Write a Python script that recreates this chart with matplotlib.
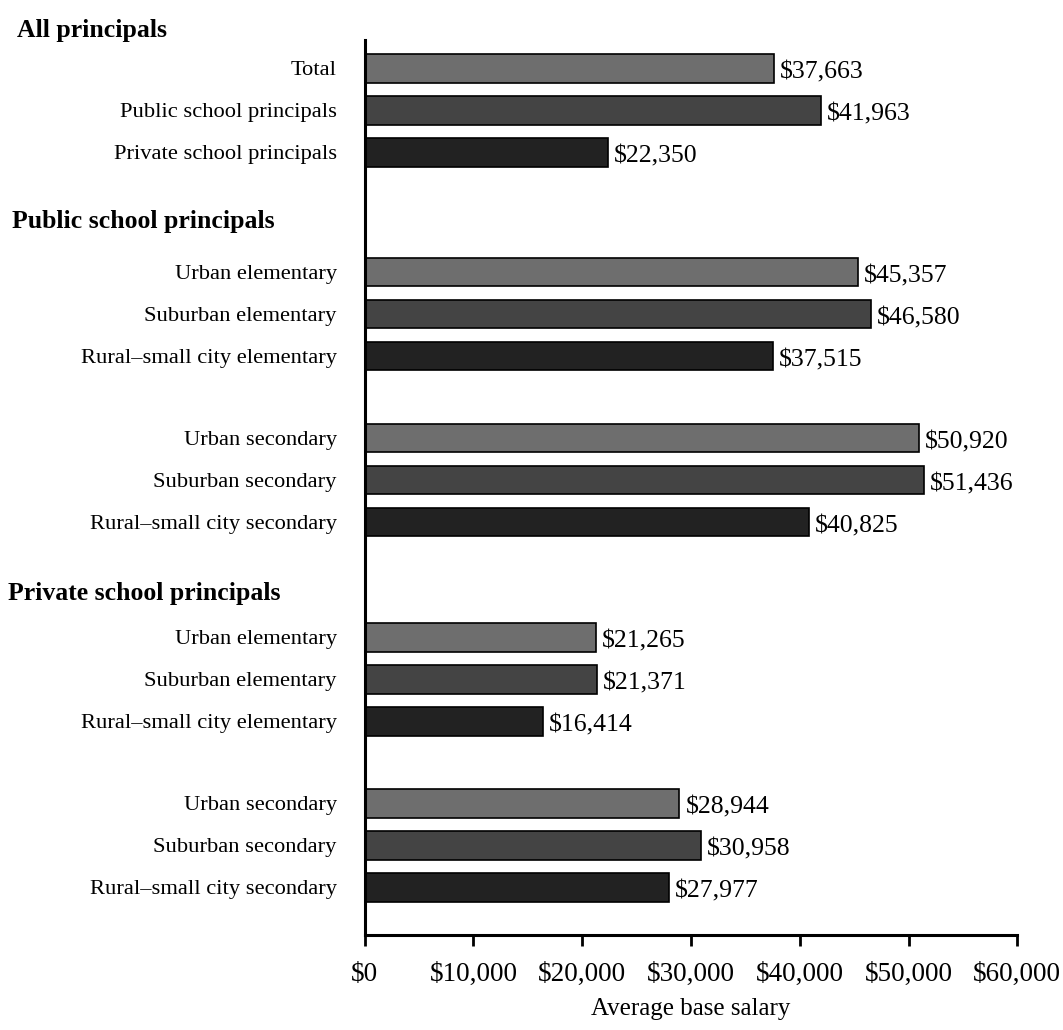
import numpy as np
import matplotlib.pyplot as plt

plt.rcParams['font.family'] = ['Liberation Serif', 'DejaVu Serif']

# data
groups = ["All principals", "Public school principals", "Private school principals"]
labels_all = ["Total", "Public school principals", "Private school principals"]
labels_elem = ["Urban elementary", "Suburban elementary", "Rural\u2013small city elementary"]
labels_sec = ["Urban secondary", "Suburban secondary", "Rural\u2013small city secondary"]

all_vals = [37663, 41963, 22350]
public_elem = [45357, 46580, 37515]
public_sec = [50920, 51436, 40825]
private_elem = [21265, 21371, 16414]
private_sec = [28944, 30958, 27977]

shades = ['#6e6e6e', '#444444', '#222222']

# layout of the blocks of three bars
blocks = [
    (labels_all, all_vals, 0.0),
    (labels_elem, public_elem, 4.85),
    (labels_sec, public_sec, 8.8),
    (labels_elem, private_elem, 13.55),
    (labels_sec, private_sec, 17.5),
]
header_pos = [-0.9, 3.65, 12.5]
header_x = [-0.532, -0.541, -0.547]

fig = plt.figure(figsize=(10.63, 10.30), dpi=100)
ax = fig.add_axes([0.343, 0.092, 0.614, 0.869])

ypos = []
ylabels = []
for labs, vals, start in blocks:
    y = start + np.arange(3)
    ax.barh(y, vals, height=0.68, color=shades, edgecolor='black', linewidth=1.2)
    for yy, v in zip(y, vals):
        ax.text(v + 550, yy + 0.1, "${:,}".format(v), va='center', ha='left', fontsize=18.5)
    ypos.extend(y)
    ylabels.extend(labs)

ax.set_yticks(ypos)
ax.set_yticklabels(ylabels, fontsize=16.2)
ax.tick_params(axis='y', length=0, pad=20)

for name, yh, xh in zip(groups, header_pos, header_x):
    ax.text(xh, yh, name, transform=ax.get_yaxis_transform(), fontsize=18.5,
            fontweight='bold', va='center', ha='left', clip_on=False)

ax.set_xlim(0, 60000)
ax.set_ylim(20.64, -0.67)
ax.set_xticks(np.arange(0, 60001, 10000))
ax.set_xticklabels(["$0"] + ["${:,}".format(t) for t in range(10000, 60001, 10000)], fontsize=19.5)
ax.tick_params(axis='x', length=8, width=2, pad=11)
ax.set_xlabel("Average base salary", fontsize=18, labelpad=8)

for s in ['top', 'right']:
    ax.spines[s].set_visible(False)
for s in ['left', 'bottom']:
    ax.spines[s].set_linewidth(2.2)

fig.savefig("out.png", dpi=100)
